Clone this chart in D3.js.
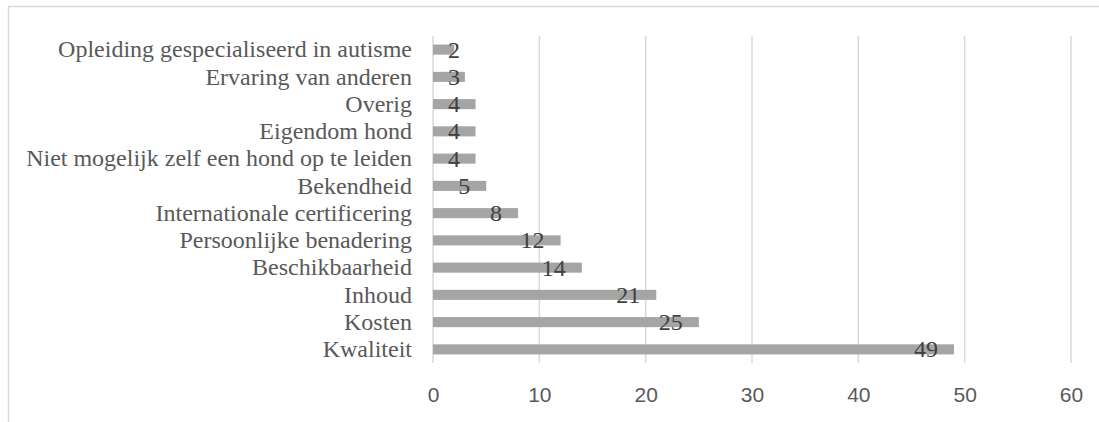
<!DOCTYPE html>
<html><head><meta charset="utf-8">
<script src="https://cdn.jsdelivr.net/npm/d3@7"></script>
<style>html,body{margin:0;padding:0;background:#fff;overflow:hidden}</style>
</head><body>
<svg id="c" width="1099" height="422"></svg>
<script>
const categories = ["Opleiding gespecialiseerd in autisme","Ervaring van anderen","Overig","Eigendom hond","Niet mogelijk zelf een hond op te leiden","Bekendheid","Internationale certificering","Persoonlijke benadering","Beschikbaarheid","Inhoud","Kosten","Kwaliteit"];
const values = [2,3,4,4,4,5,8,12,14,21,25,49];
const xTicks = [0,10,20,30,40,50,60];

const svg = d3.select("#c");
svg.append("rect").attr("x",8.5).attr("y",6.5).attr("width",1200).attr("height",600)
  .attr("fill","none").attr("stroke","#d9d9d9").attr("stroke-width",1.5);

const x = d3.scaleLinear().domain([0,60]).range([433,1071]);
const y = d3.scaleBand().domain(categories).range([36,363]).paddingInner(0.63).paddingOuter(0.315);

// gridlines
svg.append("g").selectAll("line").data(xTicks).join("line")
  .attr("x1",d=>x(d)).attr("x2",d=>x(d)).attr("y1",36).attr("y2",363)
  .attr("stroke","#d9d9d9").attr("stroke-width",1.5);

// x axis labels
const xa = svg.append("g").attr("transform","translate(0,363)")
  .call(d3.axisBottom(x).tickValues(xTicks).tickSize(0).tickPadding(0));
xa.select(".domain").remove();
xa.selectAll("text").attr("y",null).attr("dy",null).attr("transform","translate(0,38.5)")
  .attr("font-family","'Liberation Sans', Arial, sans-serif").attr("font-size",21).attr("fill","#595959");

// y axis labels
const ya = svg.append("g").attr("transform","translate(412,0)")
  .call(d3.axisLeft(y).tickSize(0).tickPadding(0));
ya.select(".domain").remove();
ya.selectAll("text").attr("x",0).attr("dy","0.32em")
  .attr("font-family","'Liberation Serif', 'Times New Roman', serif").attr("font-size",24).attr("fill","#595959");

// bars
svg.append("g").selectAll("rect").data(values).join("rect")
  .attr("x",x(0)).attr("y",(d,i)=>y(categories[i]))
  .attr("width",d=>x(d)-x(0)).attr("height",y.bandwidth())
  .attr("fill","#a5a5a5");

// data labels
const lbl = svg.append("g").selectAll("text").data(values).join("text")
  .attr("y",(d,i)=>y(categories[i])+y.bandwidth()/2).attr("dy","0.33em")
  .attr("text-anchor","end")
  .attr("font-family","'Liberation Serif', 'Times New Roman', serif").attr("font-size",24).attr("fill","#404040")
  .text(d=>d);
lbl.each(function(d){
  const w = this.getComputedTextLength();
  const xr = Math.max(x(d)-16, x(0)+15+w);
  d3.select(this).attr("x",xr);
});
</script>
</body></html>
